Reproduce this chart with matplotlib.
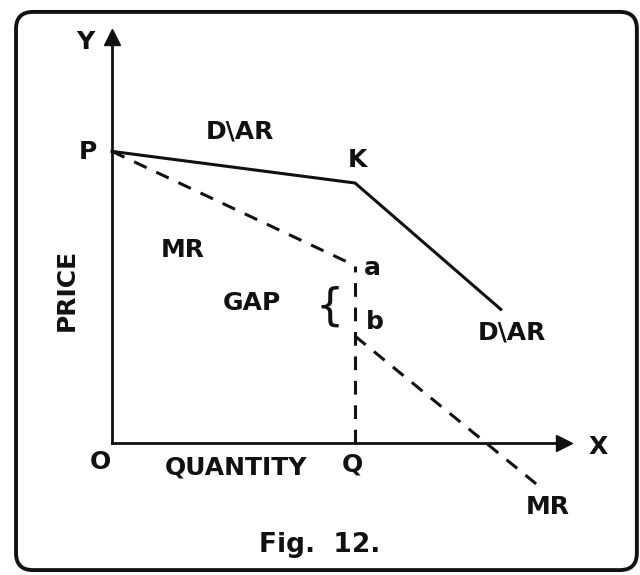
import matplotlib.pyplot as plt
from matplotlib.patches import FancyBboxPatch

# Kinked demand curve, price/quantity units
price_p = 12.0            # P on the price axis
kink = (10.0, 10.7)       # K
dar_end = (16.0, 5.5)     # lower end of the steep D\AR segment
q_kink = 10.0             # Q
mr_a = 7.3                # top of the MR gap
mr_b = 4.4                # bottom of the MR gap
mr_end = (17.6, -1.8)     # lower end of MR

dar_x = [0.0, kink[0], dar_end[0]]
dar_y = [price_p, kink[1], dar_end[1]]
mr_upper_x = [0.0, q_kink]
mr_upper_y = [price_p, mr_a]
mr_lower_x = [q_kink, mr_end[0]]
mr_lower_y = [mr_b, mr_end[1]]

y_axis_top = 16.7
x_axis_end = 18.6

s = 24.3  # pixels per unit
fig = plt.figure(figsize=(6.4, 5.75), dpi=100)
ax = fig.add_axes([0, 0, 1, 1])
ax.set_xlim(-112 / s, (640 - 112) / s)
ax.set_ylim((443 - 575) / s, 443 / s)
ax.axis("off")

ink = "#111111"
font = dict(family="DejaVu Sans", color=ink, fontweight="bold",
            ha="center", va="center")

# frame
frame = FancyBboxPatch((-3.95, -5.23), 25.55, 22.97,
                       boxstyle="round,pad=0,rounding_size=0.7",
                       fill=False, lw=2.8, ec=ink)
ax.add_patch(frame)

# axes with arrow heads
ax.plot([0, 0], [0, y_axis_top - 0.3], color=ink, lw=2)
ax.plot([0, x_axis_end - 0.3], [0, 0], color=ink, lw=2)
ax.plot(0, y_axis_top, marker="^", markersize=11, color=ink)
ax.plot(x_axis_end, 0, marker=">", markersize=11, color=ink)

# demand (AR) curve and MR
ax.plot(dar_x, dar_y, color=ink, lw=2.2)
dash = (4.5, 3.5)
ax.plot(mr_upper_x, mr_upper_y, color=ink, lw=2.2, dashes=dash)
ax.plot(mr_lower_x, mr_lower_y, color=ink, lw=2.2, dashes=dash)
ax.plot([q_kink, q_kink], [0, mr_a], color=ink, lw=2.2, dashes=dash)

# labels
fs = 18
ax.text(-1.11, 16.5, "Y", fontsize=fs, **font)
ax.text(20.0, -0.16, "X", fontsize=fs, **font)
ax.text(-0.99, 11.98, "P", fontsize=fs, **font)
ax.text(5.27, 12.8, "D\\AR", fontsize=fs, **font)
ax.text(10.12, 11.65, "K", fontsize=fs, **font)
ax.text(2.92, 7.94, "MR", fontsize=fs, **font)
ax.text(10.7, 7.2, "a", fontsize=fs, **font)
ax.text(5.76, 5.76, "GAP", fontsize=fs, **font)
ax.text(8.97, 5.6, "{", fontsize=32, ha="center", va="center",
        family="DejaVu Sans", color=ink)
ax.text(10.82, 4.98, "b", fontsize=fs, **font)
ax.text(16.46, 4.53, "D\\AR", fontsize=fs, **font)
ax.text(-1.85, 6.3, "PRICE", fontsize=fs, rotation=90, **font)
ax.text(-0.49, -0.78, "O", fontsize=fs, **font)
ax.text(5.1, -0.99, "QUANTITY", fontsize=fs, **font)
ax.text(9.88, -0.9, "Q", fontsize=fs, **font)
ax.text(17.94, -2.63, "MR", fontsize=fs, **font)
ax.text(8.56, -4.2, "Fig.  12.", fontsize=19, **font)

fig.savefig("out.png", dpi=100)
